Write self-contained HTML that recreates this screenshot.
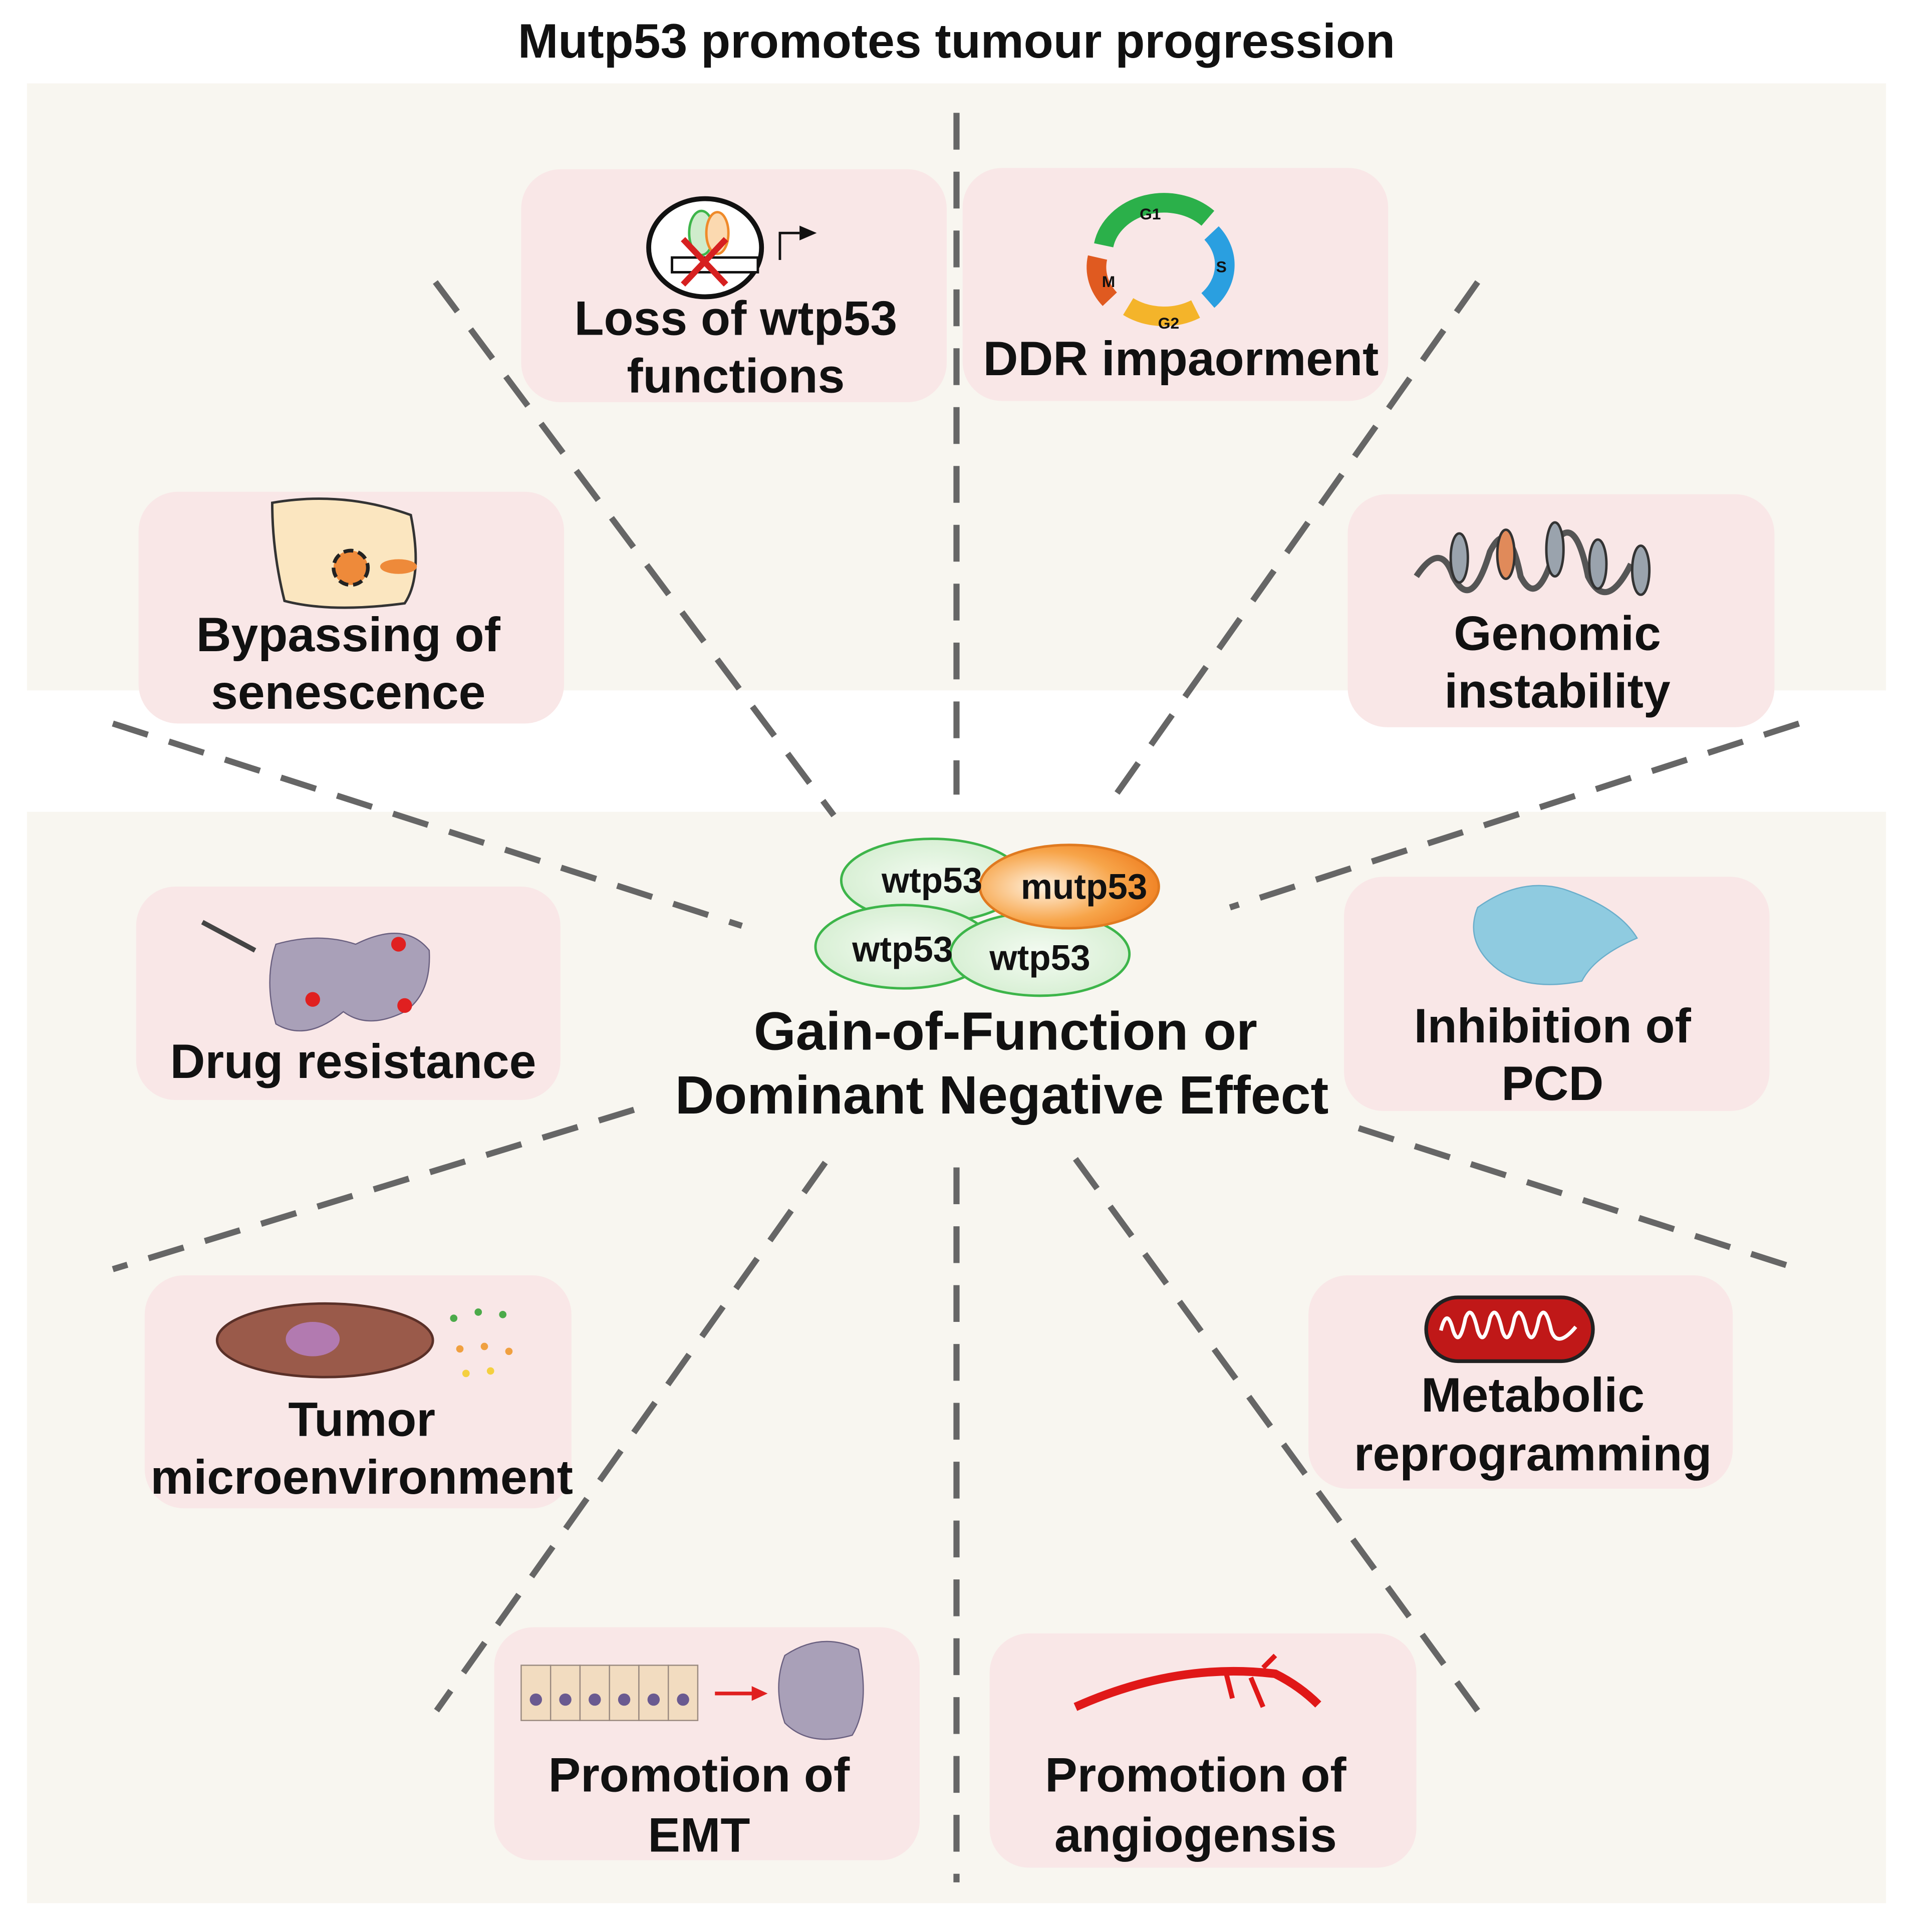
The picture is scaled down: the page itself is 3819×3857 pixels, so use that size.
<!DOCTYPE html>
<html><head><meta charset="utf-8"><style>html,body{margin:0;padding:0;background:#fff}svg{display:block}</style></head>
<body>
<svg width="3819" height="3857" viewBox="0 0 1560 1575.5" xmlns="http://www.w3.org/2000/svg" font-family="Liberation Sans, sans-serif" font-weight="bold">
<defs>
<radialGradient id="og" cx="0.35" cy="0.5" r="0.7"><stop offset="0" stop-color="#fff2e0"/><stop offset="0.6" stop-color="#f7a54a"/><stop offset="1" stop-color="#ef7d1f"/></radialGradient>
<radialGradient id="gg" cx="0.5" cy="0.5" r="0.7"><stop offset="0" stop-color="#f4fbf2"/><stop offset="1" stop-color="#cdebc9"/></radialGradient>
</defs>
<rect width="1560" height="1576" fill="#fff"/>
<rect x="22" y="68" width="1516" height="495" fill="#f8f6f0"/>
<rect x="22" y="662" width="1516" height="890" fill="#f8f6f0"/>
<text x="780" y="47" font-size="39.5" text-anchor="middle" fill="#111">Mutp53 promotes tumour progression</text>
<g fill="#f9e7e7">
<rect x="425" y="138" width="347" height="190" rx="32"/>
<rect x="785" y="137" width="347" height="190" rx="32"/>
<rect x="113" y="401" width="347" height="189" rx="32"/>
<rect x="1099" y="403" width="348" height="190" rx="32"/>
<rect x="111" y="723" width="346" height="174" rx="32"/>
<rect x="1096" y="715" width="347" height="191" rx="32"/>
<rect x="118" y="1040" width="348" height="190" rx="32"/>
<rect x="1067" y="1040" width="346" height="174" rx="32"/>
<rect x="403" y="1327" width="347" height="190" rx="32"/>
<rect x="807" y="1332" width="348" height="191" rx="32"/>
</g>
<g stroke="#666" stroke-width="5" stroke-dasharray="30 18" fill="none">
<line x1="780" y1="92" x2="780" y2="648"/>
<line x1="780" y1="952" x2="780" y2="1535"/>
<line x1="355" y1="230" x2="680" y2="665"/>
<line x1="1205" y1="230" x2="910" y2="648"/>
<line x1="92" y1="590" x2="605" y2="755"/>
<line x1="1467" y1="590" x2="1003" y2="740"/>
<line x1="517" y1="905" x2="92" y2="1035"/>
<line x1="1108" y1="920" x2="1467" y2="1035"/>
<line x1="673" y1="948" x2="356" y2="1395"/>
<line x1="877" y1="945" x2="1205" y2="1395"/>
</g>
<g stroke="#3db54a" stroke-width="2">
<ellipse cx="760" cy="718" rx="74" ry="34" fill="url(#gg)"/>
<ellipse cx="737" cy="772" rx="72" ry="34" fill="url(#gg)"/>
<ellipse cx="848" cy="778" rx="73" ry="34" fill="url(#gg)"/>
<ellipse cx="872" cy="723" rx="73" ry="34" fill="url(#og)" stroke="#e07a20"/>
</g>
<g font-size="29" fill="#111" text-anchor="middle">
<text x="760" y="728">wtp53</text><text x="884" y="733">mutp53</text>
<text x="736" y="784">wtp53</text><text x="848" y="791">wtp53</text>
</g>
<g font-size="44" fill="#111" text-anchor="middle">
<text x="820" y="856">Gain-of-Function or</text>
<text x="817" y="908">Dominant Negative Effect</text>
</g>
<g font-size="39.5" fill="#111" text-anchor="middle">
<text x="600" y="273">Loss of wtp53</text><text x="600" y="320">functions</text>
<text x="963" y="306">DDR impaorment</text>
<text x="284" y="531">Bypassing of</text><text x="284" y="578">senescence</text>
<text x="1270" y="530">Genomic</text><text x="1270" y="577">instability</text>
<text x="288" y="879">Drug resistance</text>
<text x="1266" y="850">Inhibition of</text><text x="1266" y="897">PCD</text>
<text x="295" y="1171">Tumor</text><text x="295" y="1218">microenvironment</text>
<text x="1250" y="1151">Metabolic</text><text x="1250" y="1199">reprogramming</text>
<text x="570" y="1461">Promotion of</text><text x="570" y="1510">EMT</text>
<text x="975" y="1461">Promotion of</text><text x="975" y="1510">angiogensis</text>
</g>
<ellipse cx="575" cy="202" rx="46" ry="40" fill="#fff" stroke="#111" stroke-width="4"/>
<ellipse cx="572" cy="190" rx="10" ry="18" fill="#cfeccc" stroke="#3db54a" stroke-width="2"/>
<ellipse cx="585" cy="190" rx="9" ry="17" fill="#fbd9b0" stroke="#ef8a2a" stroke-width="2"/>
<rect x="548" y="210" width="70" height="12" fill="#fff" stroke="#111" stroke-width="2"/>
<path d="M557 195 L592 232 M592 195 L557 232" stroke="#d62020" stroke-width="5"/>
<path d="M636 212 V190 H652" stroke="#111" stroke-width="2" fill="none"/><path d="M652 184 L666 190 L652 196Z" fill="#111"/>
<path d="M900 200 A50 42 0 0 1 985 178" stroke="#2bb04a" stroke-width="16" fill="none"/>
<path d="M988 190 A50 42 0 0 1 985 245" stroke="#2a9fe0" stroke-width="16" fill="none"/>
<path d="M975 252 A50 42 0 0 1 920 250" stroke="#f4b42a" stroke-width="16" fill="none"/>
<path d="M905 244 A50 42 0 0 1 895 210" stroke="#e05a20" stroke-width="16" fill="none"/>
<g font-size="13" fill="#111" text-anchor="middle"><text x="938" y="179">G1</text><text x="996" y="222">S</text><text x="953" y="268">G2</text><text x="904" y="234">M</text></g>
<path d="M222 410 Q280 400 335 420 Q345 470 330 492 Q270 500 232 490 Q222 450 222 410Z" fill="#fbe6c0" stroke="#333" stroke-width="2"/>
<circle cx="286" cy="463" r="14" fill="#ee8a3a" stroke="#222" stroke-width="3" stroke-dasharray="8 4"/>
<ellipse cx="325" cy="462" rx="15" ry="6" fill="#ee8a3a"/>
<path d="M1155 470 Q1175 440 1185 470 Q1200 500 1215 450 Q1230 420 1240 470 Q1255 500 1270 440 Q1285 420 1295 470 Q1310 500 1330 460" stroke="#555" stroke-width="5" fill="none"/>
<g fill="#9aa3ad" stroke="#333" stroke-width="2"><ellipse cx="1190" cy="455" rx="7" ry="20"/><ellipse cx="1268" cy="448" rx="7" ry="22"/><ellipse cx="1303" cy="460" rx="7" ry="20"/><ellipse cx="1338" cy="465" rx="7" ry="20"/></g>
<ellipse cx="1228" cy="452" rx="7" ry="20" fill="#e08a5a" stroke="#333" stroke-width="2"/>
<path d="M225 770 Q260 760 290 770 Q330 750 350 775 Q352 810 330 825 Q300 840 280 825 Q250 850 225 835 Q215 800 225 770Z" fill="#a9a0b8" stroke="#6a6080"/>
<circle cx="255" cy="815" r="6" fill="#e02020"/><circle cx="325" cy="770" r="6" fill="#e02020"/><circle cx="330" cy="820" r="6" fill="#e02020"/>
<path d="M165 752 L208 775" stroke="#444" stroke-width="4"/>
<path d="M1205 740 Q1240 715 1275 725 Q1320 740 1335 765 Q1300 780 1290 800 Q1240 810 1215 785 Q1195 765 1205 740Z" fill="#8fcbe0" stroke="#6aaecb"/>
<ellipse cx="265" cy="1093" rx="88" ry="30" fill="#9a5a4a" stroke="#5a3028" stroke-width="2"/>
<ellipse cx="255" cy="1092" rx="22" ry="14" fill="#b27ab0"/>
<g fill="#4caa4a"><circle cx="370" cy="1075" r="3"/><circle cx="390" cy="1070" r="3"/><circle cx="410" cy="1072" r="3"/></g>
<g fill="#f0a040"><circle cx="375" cy="1100" r="3"/><circle cx="395" cy="1098" r="3"/><circle cx="415" cy="1102" r="3"/></g>
<g fill="#f4d040"><circle cx="380" cy="1120" r="3"/><circle cx="400" cy="1118" r="3"/></g>
<rect x="1163" y="1058" width="136" height="52" rx="26" fill="#c01818" stroke="#222" stroke-width="3"/>
<path d="M1175 1085 Q1180 1065 1185 1085 Q1190 1100 1195 1075 Q1200 1062 1205 1085 Q1210 1100 1215 1075 Q1220 1062 1225 1085 Q1230 1100 1235 1075 Q1240 1062 1245 1085 Q1250 1100 1255 1075 Q1260 1062 1265 1085 Q1270 1100 1285 1082" stroke="#fff" stroke-width="3" fill="none"/>
<g fill="#f2dcc0" stroke="#9a8a80"><rect x="425" y="1358" width="24" height="45"/><rect x="449" y="1358" width="24" height="45"/><rect x="473" y="1358" width="24" height="45"/><rect x="497" y="1358" width="24" height="45"/><rect x="521" y="1358" width="24" height="45"/><rect x="545" y="1358" width="24" height="45"/></g>
<g fill="#6a5a90"><circle cx="437" cy="1386" r="5"/><circle cx="461" cy="1386" r="5"/><circle cx="485" cy="1386" r="5"/><circle cx="509" cy="1386" r="5"/><circle cx="533" cy="1386" r="5"/><circle cx="557" cy="1386" r="5"/></g>
<path d="M583 1381 H615" stroke="#e02020" stroke-width="3"/><path d="M613 1375 L626 1381 L613 1387Z" fill="#e02020"/>
<path d="M640 1350 Q670 1330 700 1345 Q710 1390 695 1415 Q660 1425 640 1405 Q630 1375 640 1350Z" fill="#a9a0b8" stroke="#6a6080"/>
<path d="M877 1392 Q960 1355 1040 1365 Q1060 1375 1075 1390" stroke="#e01818" stroke-width="7" fill="none"/>
<path d="M1000 1365 L1005 1385 M1020 1368 L1030 1392 M1030 1360 L1040 1350" stroke="#e01818" stroke-width="4"/>
</svg>
</body></html>
